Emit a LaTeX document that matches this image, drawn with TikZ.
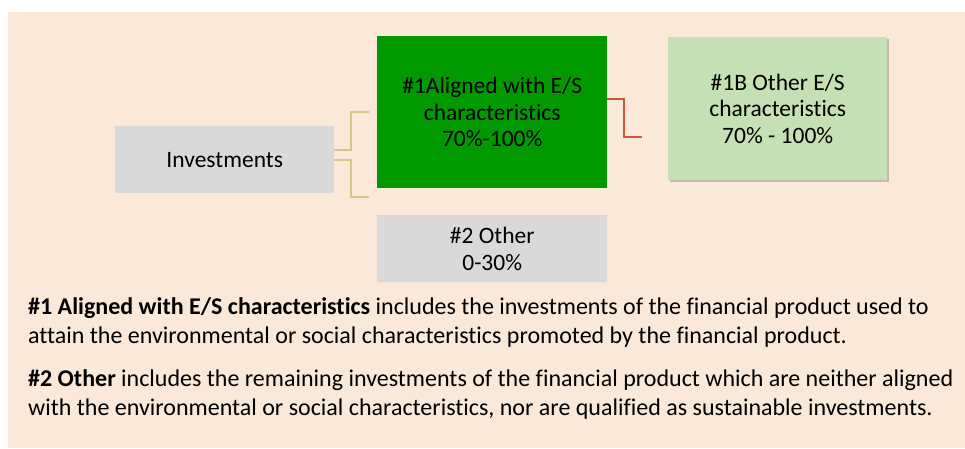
\documentclass[tikz,border=0pt]{standalone}
\usepackage{fontspec}
\setmainfont[Ligatures={NoCommon}]{Carlito}
\usetikzlibrary{shadows}
\definecolor{bg}{HTML}{FAE8D8}
\definecolor{boxgray}{HTML}{D9D9D9}
\definecolor{darkgreen}{HTML}{009900}
\definecolor{lightgreen}{HTML}{C5E0B4}
\definecolor{tanline}{HTML}{D3C88C}
\definecolor{redline}{HTML}{C8563A}
\tikzset{
  box/.style={anchor=north west, inner sep=0pt, align=center,
    font=\fontsize{23.5}{26.5}\selectfont, text=black},
  tanconn/.style={draw=tanline, line width=2pt},
  redconn/.style={draw=redline, line width=2pt},
  para/.style={anchor=base west, inner sep=0pt, font=\fontsize{24}{29}\selectfont, text=black}
}
\begin{document}
\begin{tikzpicture}[x=1pt,y=-1pt]
\useasboundingbox (0,0) rectangle (965,448);
\fill[bg] (8,12) rectangle (965,448);
\node[box, fill=boxgray, minimum width=219, minimum height=67] (inv) at (115,126) {Investments};
\node[box, fill=darkgreen, minimum width=230, minimum height=152] (al) at (377,36) {\#1Aligned with E/S\\characteristics\\70\%-100\%};
\node[box, fill=lightgreen, minimum width=219, minimum height=143,
  drop shadow={shadow xshift=2pt, shadow yshift=-2pt, opacity=0.35, fill=black!60}] (ob) at (668,37) {\#1B Other E/S\\characteristics\\70\% - 100\%};
\node[box, fill=boxgray, minimum width=230, minimum height=67] (ot) at (377,215) {\#2 Other\\0-30\%};
\coordinate (t1) at (351,112);
\coordinate (t1e) at (369,112);
\coordinate (t2) at (351,197);
\coordinate (t2e) at (369,197);
\draw[tanconn] ([yshift=9.5pt]inv.east) -| (t1) -- (t1e);
\draw[tanconn] (inv.east) -| (t2) -- (t2e);
\coordinate (r1) at (624,137);
\coordinate (r1e) at (642,137);
\draw[redconn] ([yshift=13pt]al.east) -| (r1) -- (r1e);
\node[para] (p1) at (28,314) {\textbf{\#1 Aligned with E/S characteristics} includes the investments of the financial product used to};
\node[para] (p2) at (28,343) {attain the environmental or social characteristics promoted by the financial product.};
\node[para] (p3) at (28,386) {\textbf{\#2 Other} includes the remaining investments of the financial product which are neither aligned};
\node[para] (p4) at (28,415) {with the environmental or social characteristics, nor are qualified as sustainable investments.};
\end{tikzpicture}
\end{document}
